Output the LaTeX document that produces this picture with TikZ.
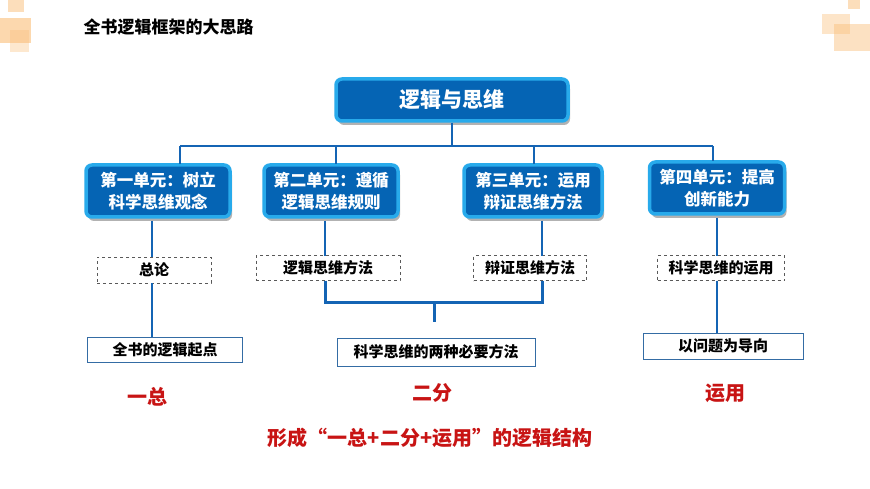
\documentclass[tikz,border=0pt]{standalone}
\usepackage{fontspec}
\setmainfont{Noto Sans CJK SC}
\usetikzlibrary{shadows}
\definecolor{dblue}{RGB}{5,100,180}
\definecolor{lblue}{RGB}{40,170,235}
\definecolor{lineb}{RGB}{20,100,180}
\definecolor{org}{RGB}{250,190,120}
\definecolor{redt}{RGB}{200,20,20}
\tikzset{
 unit/.style={draw=lblue,line width=3.5pt,fill=dblue,rounded corners=6pt,text=white,font=\bfseries\fontsize{16.5}{22}\selectfont,align=center,inner sep=0pt,drop shadow={shadow xshift=2pt,shadow yshift=-4pt,opacity=.6}},
 dbox/.style={draw=gray!70!black,dashed,line width=0.6pt,inner sep=0pt,font=\bfseries\fontsize{15}{17}\selectfont},
 sbox/.style={draw=lineb!70!gray,line width=0.8pt,inner sep=0pt,font=\bfseries\fontsize{15}{17}\selectfont},
 conn/.style={draw=lineb,line width=2.5pt},
 redl/.style={text=redt,font=\bfseries\fontsize{20}{24}\selectfont}
}
\begin{document}
\begin{tikzpicture}[x=1pt,y=-1pt]
\useasboundingbox (0,0) rectangle (870,489);
\fill[white] (0,0) rectangle (870,489);
% corner decorations
\fill[org,opacity=.5] (8,0) rectangle (24,12);
\fill[org,opacity=.6] (0,18) rectangle (31,43);
\fill[org,opacity=.35] (10,30) rectangle (29,52);
\fill[org,opacity=.5] (848,0) rectangle (860,9);
\fill[org,opacity=.4] (822,14) rectangle (850,34);
\fill[org,opacity=.45] (834,24) rectangle (870,51);
\node[anchor=west,font=\bfseries\fontsize{17}{20}\selectfont] (title) at (80,27) {全书逻辑框架的大思路};
% nodes
\node[unit,minimum width=232,minimum height=42,font=\bfseries\fontsize{21}{25}\selectfont] (top) at (452,100) {逻辑与思维};
\node[unit,minimum width=144,minimum height=52] (u1) at (158,191) {第一单元：树立\\科学思维观念};
\node[unit,minimum width=134,minimum height=52] (u2) at (331,191) {第二单元：遵循\\逻辑思维规则};
\node[unit,minimum width=138,minimum height=52] (u3) at (533,191) {第三单元：运用\\辩证思维方法};
\node[unit,minimum width=135,minimum height=52] (u4) at (717,188) {第四单元：提高\\创新能力};
\node[dbox,minimum width=114,minimum height=26] (d1) at (154,270) {总论};
\node[dbox,minimum width=144,minimum height=25] (d2) at (328,268) {逻辑思维方法};
\node[dbox,minimum width=113,minimum height=25] (d3) at (530,268) {辩证思维方法};
\node[dbox,minimum width=127,minimum height=25] (d4) at (721,268) {科学思维的运用};
\node[sbox,minimum width=155,minimum height=25] (s1) at (165,350) {全书的逻辑起点};
\node[sbox,minimum width=198,minimum height=28] (s2) at (436,352) {科学思维的两种必要方法};
\node[sbox,minimum width=160,minimum height=26] (s4) at (723,346) {以问题为导向};
\coordinate (br) at (434,322);
% connectors
\draw[conn] (top.south) -- (452,146);
\draw[conn] (180,146) -- (713,146);
\draw[conn] (180,146) -- (180,164);
\draw[conn] (336,146) -- (336,164);
\draw[conn] (534,146) -- (534,164);
\draw[conn] (713,146) -- (713,161);
\draw[conn] (152,221) -- (152,257);
\draw[conn] (152,283) -- (152,337);
\draw[conn] (325,221) -- (325,255.5);
\draw[conn] (542,221) -- (542,255.5);
\draw[conn,line width=3pt] (325,280.5) -- (325,302) -- (542,302) -- (542,280.5);
\draw[conn,line width=3pt] (434,302) -- (br);
\draw[conn] (717,218) -- (717,255.5);
\draw[conn] (717,280.5) -- (717,333);
\node[redl] (r1) at (147,397) {一总};
\node[redl] (r2) at (432,393) {二分};
\node[redl] (r3) at (725,393) {运用};
\node[redl] (bot) at (430,438) {形成“一总+二分+运用”的逻辑结构};
\end{tikzpicture}
\end{document}
